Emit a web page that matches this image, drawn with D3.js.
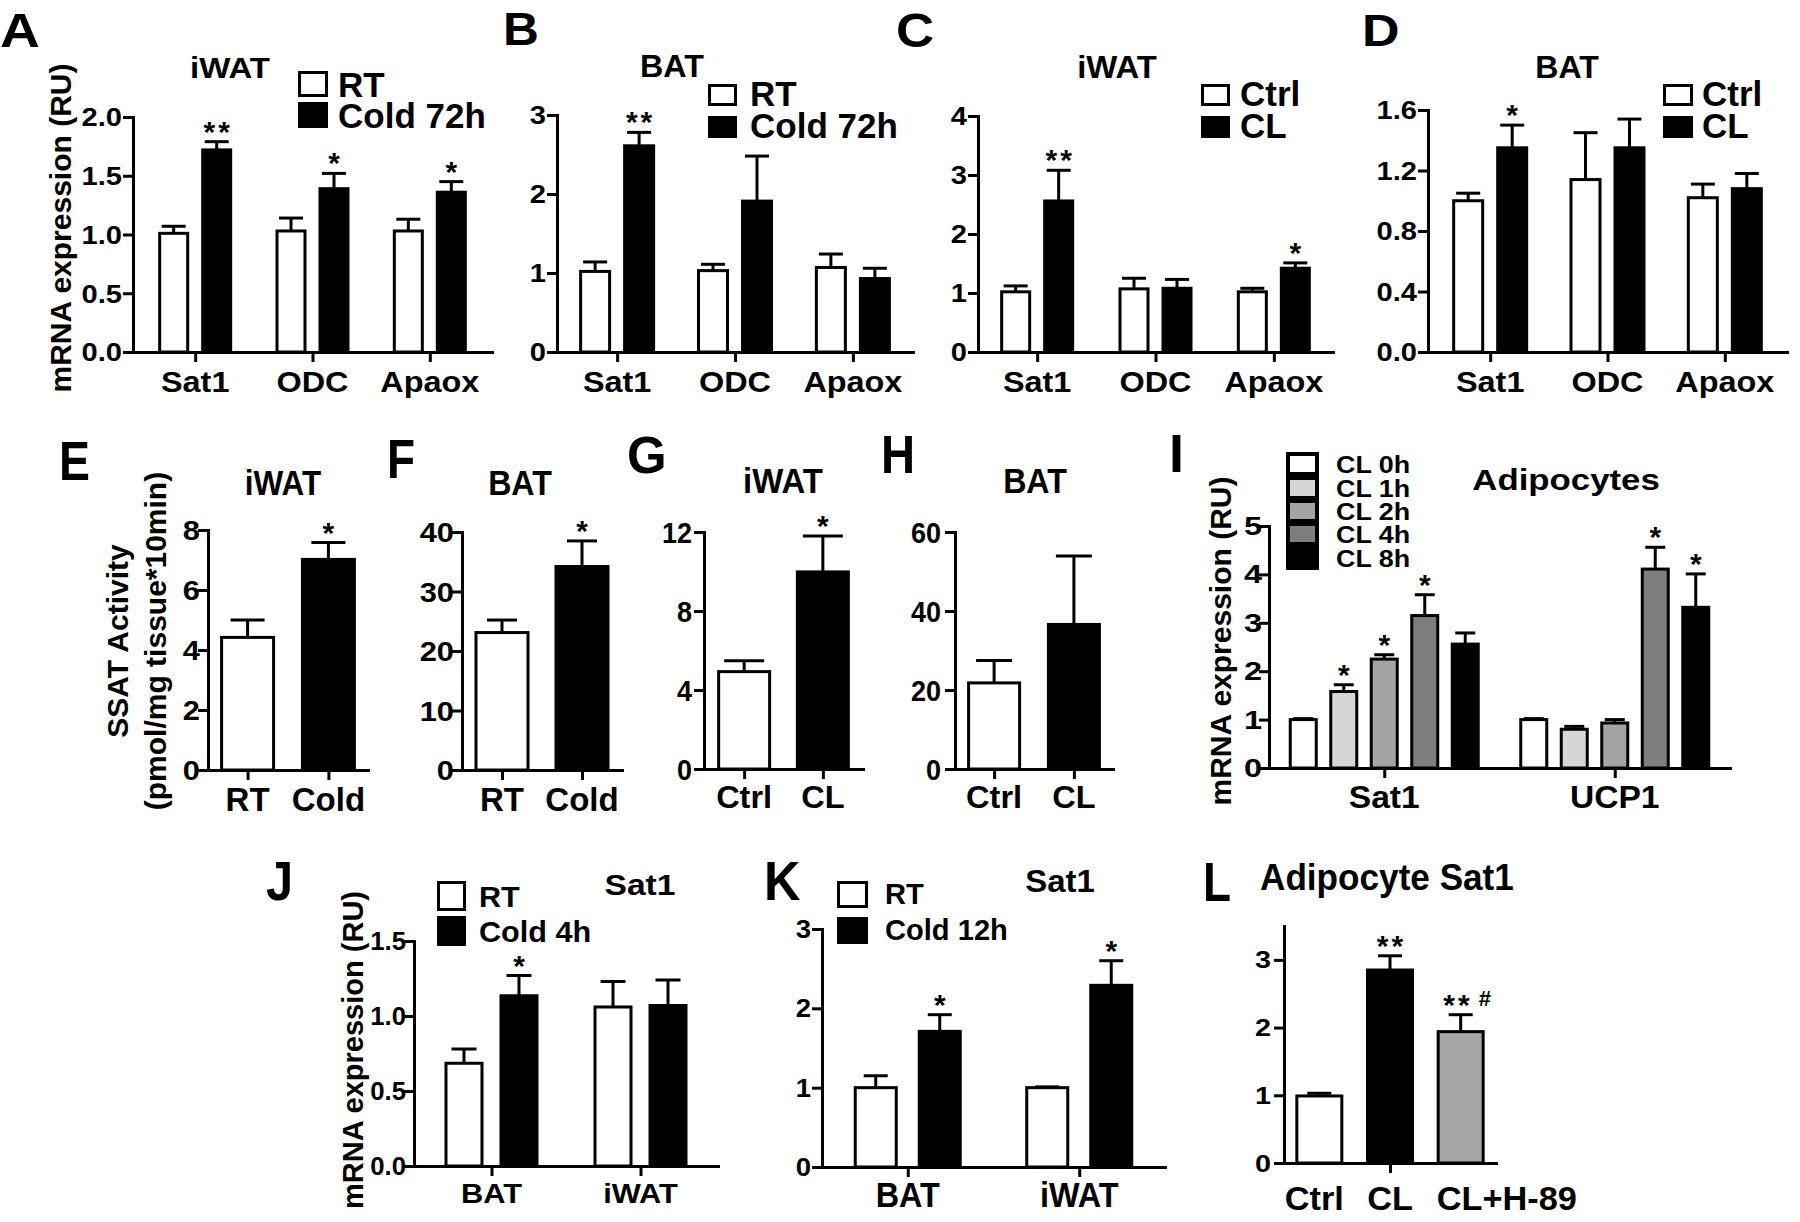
<!DOCTYPE html>
<html><head><meta charset="utf-8">
<script src="https://cdn.jsdelivr.net/npm/d3@7"></script>
<style>
body{margin:0;background:#fff;}
svg text{font-family:"Liberation Sans",Arial,Helvetica,sans-serif;font-weight:bold;fill:#000;}
</style></head><body>
<svg id="fig" width="1800" height="1222"></svg>
<script>
// ================= DATA =================
// A  iWAT, cold 72h
const catsA = ["Sat1","ODC","Apaox"];
const groupsA = ["RT","Cold 72h"];
const meanA_RT = [1.01,1.03,1.03];
const semA_RT = [0.06,0.11,0.10];
const meanA_Cold = [1.72,1.39,1.36];
const semA_Cold = [0.07,0.13,0.09];
const sigA_Cold = ["**","*","*"];
const ticksA = [0,0.5,1.0,1.5,2.0];
// B  BAT, cold 72h
const catsB = ["Sat1","ODC","Apaox"];
const groupsB = ["RT","Cold 72h"];
const meanB_RT = [1.02,1.03,1.07];
const semB_RT = [0.12,0.08,0.17];
const meanB_Cold = [2.61,1.91,0.93];
const semB_Cold = [0.17,0.57,0.13];
const sigB_Cold = ["**","",""];
const ticksB = [0,1,2,3];
// C  iWAT, CL
const catsC = ["Sat1","ODC","Apaox"];
const groupsC = ["Ctrl","CL"];
const meanC_Ctrl = [1.02,1.07,1.02];
const semC_Ctrl = [0.10,0.18,0.06];
const meanC_CL = [2.56,1.08,1.42];
const semC_CL = [0.52,0.15,0.09];
const sigC_CL = ["**","","*"];
const ticksC = [0,1,2,3,4];
// D  BAT, CL
const catsD = ["Sat1","ODC","Apaox"];
const groupsD = ["Ctrl","CL"];
const meanD_Ctrl = [1.00,1.14,1.02];
const semD_Ctrl = [0.05,0.31,0.09];
const meanD_CL = [1.35,1.35,1.08];
const semD_CL = [0.15,0.19,0.10];
const sigD_CL = ["*","",""];
const ticksD = [0,0.4,0.8,1.2,1.6];
// E  SSAT activity iWAT
const catsE = ["RT","Cold"];
const meanE = [4.42,7.02];
const semE = [0.58,0.56];
const sigE = ["","*"];
const ticksE = [0,2,4,6,8];
// F  SSAT activity BAT
const catsF = ["RT","Cold"];
const meanF = [23.1,34.2];
const semF = [2.1,4.3];
const sigF = ["","*"];
const ticksF = [0,10,20,30,40];
// G  iWAT CL
const catsG = ["Ctrl","CL"];
const meanG = [4.93,9.98];
const semG = [0.55,1.82];
const sigG = ["","*"];
const ticksG = [0,4,8,12];
// H  BAT CL
const catsH = ["Ctrl","CL"];
const meanH = [21.8,36.6];
const semH = [5.7,17.3];
const sigH = ["",""];
const ticksH = [0,20,40,60];
// I  Adipocytes time course
const catsI = ["Sat1","UCP1"];
const groupsI = ["CL 0h","CL 1h","CL 2h","CL 4h","CL 8h"];
const meanI_0h = [1.00,1.00], semI_0h = [0.02,0.02], sigI_0h = ["",""];
const meanI_1h = [1.58,0.80], semI_1h = [0.14,0.06], sigI_1h = ["*",""];
const meanI_2h = [2.25,0.93], semI_2h = [0.09,0.07], sigI_2h = ["*",""];
const meanI_4h = [3.15,4.11], semI_4h = [0.43,0.45], sigI_4h = ["*","*"];
const meanI_8h = [2.56,3.32], semI_8h = [0.23,0.69], sigI_8h = ["","*"];
const ticksI = [0,1,2,3,4,5];
// J  Sat1 cold 4h
const catsJ = ["BAT","iWAT"];
const groupsJ = ["RT","Cold 4h"];
const meanJ_RT = [0.685,1.06];
const semJ_RT = [0.095,0.17];
const meanJ_Cold = [1.135,1.07];
const semJ_Cold = [0.135,0.17];
const sigJ_Cold = ["*",""];
const ticksJ = [0,0.5,1.0,1.5];
// K  Sat1 cold 12h
const catsK = ["BAT","iWAT"];
const groupsK = ["RT","Cold 12h"];
const meanK_RT = [1.0,1.0];
const semK_RT = [0.15,0.01];
const meanK_Cold = [1.71,2.29];
const semK_Cold = [0.21,0.31];
const sigK_Cold = ["*","*"];
const ticksK = [0,1,2,3];
// L  Adipocyte Sat1
const catsL = ["Ctrl","CL","CL+H-89"];
const meanL = [0.99,2.85,1.94];
const semL = [0.04,0.21,0.25];
const sigL = ["","**","** #"];
const ticksL = [0,1,2,3];
const yMaxL = 3.5;

// ================= DRAWING =================
const svg = d3.select("#fig");
const f1 = d3.format(".1f"), fd = d3.format("d");

function txt(g, x, y, s, fs, sx, anchor, rot) {
  return g.append("text")
    .attr("transform", `translate(${x},${y})${rot ? ` rotate(${rot})` : ""} scale(${sx || 1},1)`)
    .attr("font-size", fs)
    .attr("text-anchor", anchor || "middle")
    .text(s);
}

function drawPanel(c, cats, series, ticks, ymax) {
  const g = svg.append("g");
  const y = d3.scaleLinear().domain([0, ymax]).range([c.y0, c.yTop]);
  const x = d3.scalePoint().domain(cats).range([c.x0, c.x1]).padding(c.pad);
  const ns = series.length, gap = c.gap || 0;
  const total = ns * c.bw + (ns - 1) * gap;
  const inner = d3.scaleBand().domain(d3.range(ns)).range([-total / 2, total / 2])
    .paddingInner(ns > 1 ? gap / (c.bw + gap) : 0).paddingOuter(0);
  const bw = inner.bandwidth();
  const bars = [];
  series.forEach((s, si) => cats.forEach((cat, ci) => bars.push({
    cat, si, mean: s.mean[ci], sem: s.sem[ci], sig: s.sig ? s.sig[ci] : "",
    fill: Array.isArray(s.fill) ? s.fill[ci] : s.fill
  })));
  const cx = d => x(d.cat) + inner(d.si) + bw / 2;

  g.selectAll("line.eb").data(bars).join("line").attr("class", "eb")
    .attr("x1", cx).attr("x2", cx)
    .attr("y1", d => y(d.mean)).attr("y2", d => y(d.mean + d.sem))
    .attr("stroke", "#000").attr("stroke-width", 3);
  g.selectAll("line.cap").data(bars).join("line").attr("class", "cap")
    .attr("x1", d => cx(d) - c.cap / 2).attr("x2", d => cx(d) + c.cap / 2)
    .attr("y1", d => y(d.mean + d.sem)).attr("y2", d => y(d.mean + d.sem))
    .attr("stroke", "#000").attr("stroke-width", 3);
  g.selectAll("rect.bar").data(bars).join("rect").attr("class", "bar")
    .attr("x", d => x(d.cat) + inner(d.si) + 1.5)
    .attr("y", d => y(d.mean))
    .attr("width", bw - 3)
    .attr("height", d => c.y0 - y(d.mean))
    .attr("fill", d => d.fill).attr("stroke", "#000").attr("stroke-width", 3);

  // significance marks
  bars.filter(d => d.sig).forEach(d => {
    const parts = d.sig.split(" ");
    const t = g.append("text").attr("x", cx(d) + (parts.length > 1 ? 8 : 1.5))
      .attr("y", y(d.mean + d.sem) + (c.starDy || 0))
      .attr("font-size", c.starFs || 30).attr("letter-spacing", 3)
      .attr("text-anchor", "middle").text(parts[0]);
    if (parts.length > 1) t.append("tspan").attr("font-size", 22).attr("dy", -9).attr("dx", 6).text(parts[1]);
  });

  // axes
  g.append("g").attr("transform", `translate(${c.x0},0)`)
    .call(d3.axisLeft(y).tickValues(ticks).tickSize(10).tickSizeOuter(0).tickFormat(""));
  g.append("g").attr("transform", `translate(0,${c.y0})`)
    .call(d3.axisBottom(x).tickValues(c.xTicks || cats).tickSize(10).tickSizeOuter(0).tickFormat(""));
  g.selectAll(".domain, .tick line").attr("stroke", "#000").attr("stroke-width", 3);
  g.selectAll(".domain").attr("stroke-linecap", "square");

  // tick labels
  const fmt = c.fmt || fd;
  ticks.forEach(t => txt(g, c.x0 - (c.tickGap || 11), y(t) + 0.36 * c.tickFs, fmt(t), c.tickFs, c.tickSx, "end"));
  // category labels
  cats.forEach((cat, i) => {
    const al = c.catAlign ? c.catAlign[i] : "middle";
    const xx = al === "start" ? x(cat) + inner(0) : x(cat) + (c.catDx ? c.catDx[i] : 0);
    txt(g, xx, c.catY, cat, c.catFs, c.catSx, al);
  });
  // title
  if (c.title) txt(g, c.title.x, c.title.y, c.title.text, c.title.fs, c.title.sx, c.title.anchor || "middle");
  // legend
  if (c.legend) {
    const L = c.legend, sw = L.sw || 3;
    L.labels.forEach((lab, i) => {
      g.append("rect").attr("x", L.bx + sw / 2).attr("y", L.ys[i] + (L.boff || 0) - L.bh + sw / 2)
        .attr("width", L.bw - sw).attr("height", L.bh - sw)
        .attr("fill", L.fills[i]).attr("stroke", "#000").attr("stroke-width", sw);
      txt(g, L.tx, L.ys[i], lab, L.fs, L.sx, "start");
    });
  }
  // y label
  if (c.ylabel) c.ylabel.lines.forEach((ln, i) => txt(g, c.ylabel.x[i], c.ylabel.y, ln, c.ylabel.fs, 1, "middle", -90));
  // panel letter
  txt(g, c.letter.x, c.letter.y, c.letter.t, c.letter.fs, c.letter.sx, "start");
}

const W = "#ffffff", K = "#000000";
const row1 = { y0: 352, pad: 0.52, gap: 12, cap: 24, tickFs: 26, tickSx: 1.12, catFs: 30, catSx: 1.08, catY: 392 };

drawPanel(Object.assign({}, row1, {
  x0: 133, x1: 492, yTop: 117, pad: 0.53, bw: 31, fmt: f1,
  title: { text: "iWAT", x: 230, y: 78, fs: 30, sx: 1.1 },
  legend: { labels: groupsA, fills: [W, K], bx: 298, bw: 30, bh: 26, tx: 338, ys: [97, 128], fs: 35, sx: 1 },
  ylabel: { lines: ["mRNA expression (RU)"], x: [71], y: 228, fs: 30 },
  letter: { t: "A", x: 0, y: 47, fs: 48, sx: 1.15 }
}), catsA, [
  { mean: meanA_RT, sem: semA_RT, fill: W },
  { mean: meanA_Cold, sem: semA_Cold, sig: sigA_Cold, fill: K }
], ticksA, d3.max(ticksA));

drawPanel(Object.assign({}, row1, {
  x0: 557, x1: 913, yTop: 115, pad: 0.51, bw: 32,
  title: { text: "BAT", x: 672, y: 77, fs: 31, sx: 1.04 },
  legend: { labels: groupsB, fills: [W, K], bx: 708, bw: 29, bh: 22, tx: 750, ys: [106, 138], fs: 35, sx: 1 },
  letter: { t: "B", x: 503, y: 45, fs: 46, sx: 1.08 }
}), catsB, [
  { mean: meanB_RT, sem: semB_RT, fill: W },
  { mean: meanB_Cold, sem: semB_Cold, sig: sigB_Cold, fill: K }
], ticksB, d3.max(ticksB));

drawPanel(Object.assign({}, row1, {
  x0: 978, x1: 1333, yTop: 116, pad: 0.5, bw: 31,
  title: { text: "iWAT", x: 1117, y: 78, fs: 31, sx: 1.06 },
  legend: { labels: groupsC, fills: [W, K], bx: 1201, bw: 29, bh: 22, tx: 1240, ys: [106, 138], fs: 35, sx: 1 },
  letter: { t: "C", x: 896, y: 47, fs: 48, sx: 1.1 }
}), catsC, [
  { mean: meanC_Ctrl, sem: semC_Ctrl, fill: W },
  { mean: meanC_CL, sem: semC_CL, sig: sigC_CL, fill: K }
], ticksC, d3.max(ticksC));

drawPanel(Object.assign({}, row1, {
  x0: 1428, x1: 1787, yTop: 110, pad: 0.53, bw: 32, fmt: f1,
  title: { text: "BAT", x: 1567, y: 78, fs: 32, sx: 1.0 },
  legend: { labels: groupsD, fills: [W, K], bx: 1663, bw: 30, bh: 22, tx: 1702, ys: [106, 138], fs: 35, sx: 1 },
  letter: { t: "D", x: 1362, y: 46, fs: 44, sx: 1.18 }
}), catsD, [
  { mean: meanD_Ctrl, sem: semD_Ctrl, fill: W },
  { mean: meanD_CL, sem: semD_CL, sig: sigD_CL, fill: K }
], ticksD, d3.max(ticksD));

// Row 2
drawPanel({
  x0: 208, x1: 368, y0: 770, yTop: 530, pad: 0.49, bw: 55, cap: 34, tickGap: 8,
  tickFs: 28, tickSx: 1.1, catFs: 33, catSx: 1.0, catY: 811,
  title: { text: "iWAT", x: 283, y: 495, fs: 35, sx: 0.9 },
  ylabel: { lines: ["SSAT Activity", "(pmol/mg tissue*10min)"], x: [128, 166], y: 641, fs: 30 },
  letter: { t: "E", x: 59, y: 480, fs: 56, sx: 0.83 }
}, catsE, [{ mean: meanE, sem: semE, sig: sigE, fill: [W, K] }], ticksE, d3.max(ticksE));

drawPanel({
  x0: 462, x1: 622, y0: 770, yTop: 532, pad: 0.5, bw: 55, cap: 30, tickGap: 8,
  tickFs: 28, tickSx: 1.1, catFs: 33, catSx: 1.0, catY: 811,
  title: { text: "BAT", x: 520, y: 495, fs: 35, sx: 0.92 },
  letter: { t: "F", x: 387, y: 478, fs: 56, sx: 0.82 }
}, catsF, [{ mean: meanF, sem: semF, sig: sigF, fill: [W, K] }], ticksF, d3.max(ticksF));

drawPanel({
  x0: 704, x1: 863, y0: 769, yTop: 532, pad: 0.51, bw: 54, cap: 40, tickGap: 12,
  tickFs: 30, tickSx: 0.9, catFs: 31, catSx: 1.05, catY: 808,
  title: { text: "iWAT", x: 783, y: 493, fs: 35, sx: 0.94 },
  letter: { t: "G", x: 627, y: 473, fs: 52, sx: 0.98 }
}, catsG, [{ mean: meanG, sem: semG, sig: sigG, fill: [W, K] }], ticksG, d3.max(ticksG));

drawPanel({
  x0: 955, x1: 1113, y0: 769, yTop: 532, pad: 0.49, bw: 54, cap: 36, tickGap: 14,
  tickFs: 30, tickSx: 0.9, catFs: 31, catSx: 1.05, catY: 808,
  title: { text: "BAT", x: 1035, y: 493, fs: 35, sx: 0.92 },
  letter: { t: "H", x: 881, y: 473, fs: 53, sx: 0.89 }
}, catsH, [{ mean: meanH, sem: semH, sig: sigH, fill: [W, K] }], ticksH, d3.max(ticksH));

const greysI = ["#ffffff", "#d6d6d6", "#a4a4a4", "#7e7e7e", "#000000"];
drawPanel({
  x0: 1269, x1: 1730, y0: 768, yTop: 526, pad: 0.5, bw: 29, gap: 11.5, cap: 20, tickGap: 7,
  tickFs: 25, tickSx: 1.3, catFs: 32, catSx: 1.05, catY: 808,
  title: { text: "Adipocytes", x: 1566, y: 490, fs: 30, sx: 1.16 },
  legend: { labels: groupsI, fills: greysI, bx: 1286, bw: 33, bh: 24, boff: 3, sw: 4, tx: 1336, ys: [473, 497, 520, 543, 567], fs: 24, sx: 1.12 },
  ylabel: { lines: ["mRNA expression (RU)"], x: [1231], y: 641, fs: 30 },
  letter: { t: "I", x: 1169, y: 472, fs: 54, sx: 1 }
}, catsI, [
  { mean: meanI_0h, sem: semI_0h, sig: sigI_0h, fill: greysI[0] },
  { mean: meanI_1h, sem: semI_1h, sig: sigI_1h, fill: greysI[1] },
  { mean: meanI_2h, sem: semI_2h, sig: sigI_2h, fill: greysI[2] },
  { mean: meanI_4h, sem: semI_4h, sig: sigI_4h, fill: greysI[3] },
  { mean: meanI_8h, sem: semI_8h, sig: sigI_8h, fill: greysI[4] }
], ticksI, d3.max(ticksI));

// Row 3
drawPanel({
  x0: 414, x1: 718, y0: 1166, yTop: 941, pad: 0.52, bw: 39, gap: 16, cap: 25, fmt: f1, tickGap: 8,
  tickFs: 25, tickSx: 1.03, catFs: 28, catSx: 1.1, catY: 1203,
  title: { text: "Sat1", x: 640, y: 895, fs: 30, sx: 1.12 },
  legend: { labels: groupsJ, fills: [W, K], bx: 437, bw: 29, bh: 30, boff: 4, tx: 479, ys: [907, 942], fs: 30, sx: 1.02 },
  ylabel: { lines: ["mRNA expression (RU)"], x: [363], y: 1050, fs: 29 },
  letter: { t: "J", x: 266, y: 900, fs: 56, sx: 0.87 }
}, catsJ, [
  { mean: meanJ_RT, sem: semJ_RT, fill: W },
  { mean: meanJ_Cold, sem: semJ_Cold, sig: sigJ_Cold, fill: K }
], ticksJ, d3.max(ticksJ));

drawPanel({
  x0: 822, x1: 1165, y0: 1167, yTop: 929, pad: 0.5, bw: 44, gap: 20, cap: 24,
  tickFs: 25, tickSx: 1.1, catFs: 36, catSx: 0.9, catY: 1207,
  title: { text: "Sat1", x: 1060, y: 892, fs: 32, sx: 1.03 },
  legend: { labels: groupsK, fills: [W, K], bx: 837, bw: 31, bh: 27, boff: 4, tx: 885, ys: [904, 940], fs: 30, sx: 0.97 },
  letter: { t: "K", x: 764, y: 900, fs: 55, sx: 0.92 }
}, catsK, [
  { mean: meanK_RT, sem: semK_RT, fill: W },
  { mean: meanK_Cold, sem: semK_Cold, sig: sigK_Cold, fill: K }
], ticksK, d3.max(ticksK));

drawPanel({
  x0: 1284, x1: 1496, y0: 1163, yTop: 926, pad: 0.5, bw: 48, cap: 24, tickGap: 13,
  tickFs: 24, tickSx: 1.2, catFs: 33, catSx: 1.04, catY: 1210,
  xTicks: ["CL"], catAlign: ["middle", "middle", "start"], catDx: [-5, 0, 0],
  title: { text: "Adipocyte Sat1", x: 1260, y: 890, fs: 37, sx: 0.95, anchor: "start" },
  letter: { t: "L", x: 1203, y: 901, fs: 56, sx: 0.82 }
}, catsL, [{ mean: meanL, sem: semL, sig: sigL, fill: ["#ffffff", "#000000", "#a6a6a6"] }], ticksL, yMaxL);
</script>
</body></html>
